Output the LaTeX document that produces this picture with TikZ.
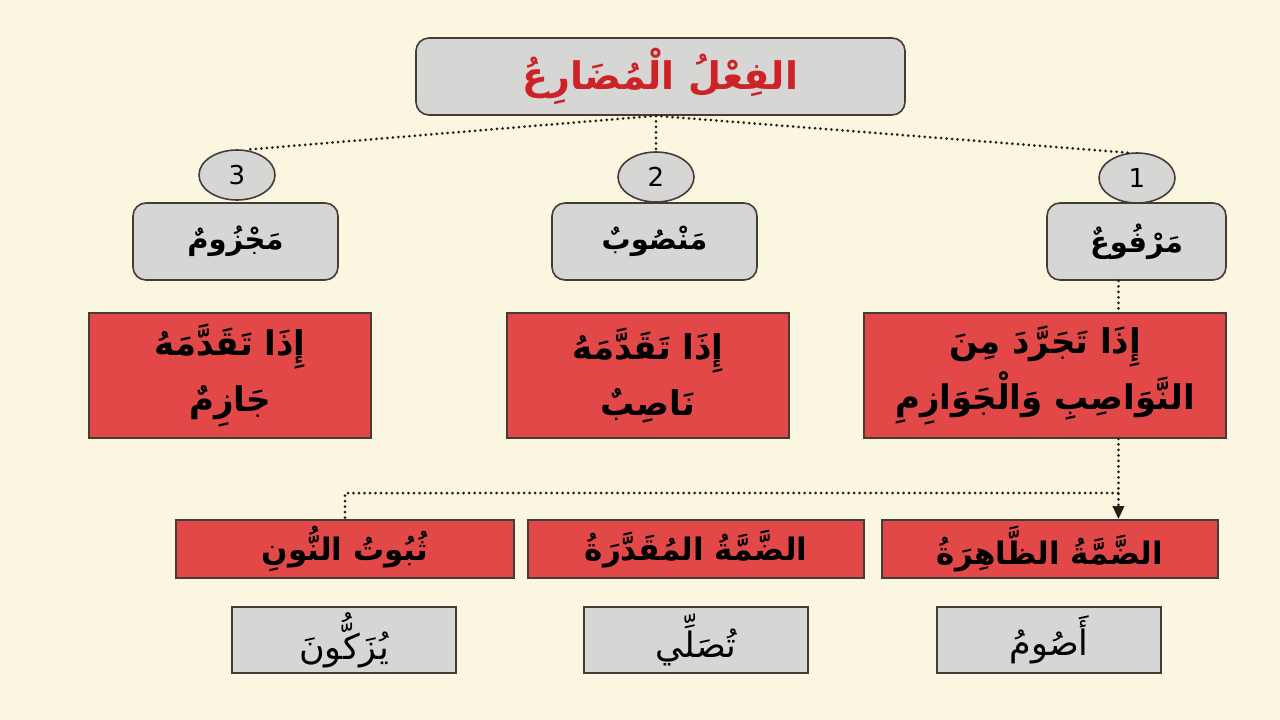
\documentclass[tikz,border=0pt]{standalone}
\usepackage{fontspec}
\usetikzlibrary{shapes.geometric,arrows.meta,calc}
\TeXXeTstate=1
\newfontfamily\arabicfont[Script=Arabic]{DejaVu Sans}
\newfontfamily\numfont{DejaVu Sans}
\definecolor{bgcream}{RGB}{251,246,224}
\definecolor{boxgray}{RGB}{214,214,212}
\definecolor{boxred}{RGB}{226,72,72}
\definecolor{edgedark}{RGB}{70,60,55}
\definecolor{titlered}{RGB}{205,35,40}
\definecolor{dotcol}{RGB}{40,30,25}
\tikzset{
  grayround/.style={draw=edgedark,line width=1.6pt,fill=boxgray,rounded corners=13pt,inner sep=0pt,font=\arabicfont\bfseries\fontsize{29}{34}\selectfont},
  numcirc/.style={ellipse,draw=edgedark,line width=1.6pt,fill=boxgray,inner sep=0pt,minimum width=76pt,minimum height=50pt,font=\numfont\fontsize{26}{30}\selectfont},
  redbox/.style={draw=edgedark,line width=1.6pt,fill=boxred,inner sep=0pt,align=center,font=\arabicfont\bfseries\fontsize{34}{56}\selectfont},
  redsmall/.style={draw=edgedark,line width=1.6pt,fill=boxred,inner sep=0pt,minimum width=336pt,minimum height=58pt,font=\arabicfont\bfseries\fontsize{31}{34}\selectfont},
  graybox/.style={draw=edgedark,line width=1.4pt,fill=boxgray,inner sep=0pt,minimum width=224pt,minimum height=66pt,font=\arabicfont\fontsize{35}{38}\selectfont},
  dots/.style={draw=dotcol,line width=3pt,line cap=round,dash pattern=on 0pt off 5.5pt},
}
\begin{document}
\begin{tikzpicture}[x=1pt,y=-1pt]
\fill[bgcream] (0,0) rectangle (1280,720);
\useasboundingbox (0,0) rectangle (1280,720);

\node[grayround,minimum width=489pt,minimum height=77pt,text=titlered,font=\arabicfont\bfseries\fontsize{38}{42}\selectfont] (top) at (660.5,76.5) {\beginR الفِعْلُ الْمُضَارِعُ\endR};

\node[numcirc] (c3) at (237,175) {3};
\node[numcirc] (c2) at (656,177) {2};
\node[numcirc] (c1) at (1137,178) {1};

\node[grayround,minimum width=205pt,minimum height=77pt] (b3) at (235.5,241.5) {\beginR مَجْزُومٌ\endR};
\node[grayround,minimum width=205pt,minimum height=77pt] (b2) at (654.5,241.5) {\beginR مَنْصُوبٌ\endR};
\node[grayround,minimum width=179pt,minimum height=77pt] (b1) at (1136.5,241.5) {\beginR مَرْفُوعٌ\endR};

\node[redbox,minimum width=282pt,minimum height=125pt] (r3) at (230,375.5) {\beginR إِذَا تَقَدَّمَهُ\endR\\\beginR جَازِمٌ\endR};
\node[redbox,minimum width=282pt,minimum height=125pt] (r2) at (648,375.5) {\beginR إِذَا تَقَدَّمَهُ\endR\\\beginR نَاصِبٌ\endR};
\node[redbox,minimum width=362pt,minimum height=125pt] (r1) at (1045,375.5) {\beginR إِذَا تَجَرَّدَ مِنَ\endR\\\beginR النَّوَاصِبِ وَالْجَوَازِمِ\endR};

\node[redsmall,minimum width=338pt] (s3) at (345,549) {\beginR ثُبُوتُ النُّونِ\endR};
\node[redsmall] (s2) at (696,549) {\beginR الضَّمَّةُ المُقَدَّرَةُ\endR};
\node[redsmall] (s1) at (1050,549) {\beginR الضَّمَّةُ الظَّاهِرَةُ\endR};

\node[graybox] (g3) at (344,640) {\beginR يُزَكُّونَ\endR};
\node[graybox] (g2) at (696,640) {\beginR تُصَلِّي\endR};
\node[graybox] (g1) at (1049,640) {\beginR أَصُومُ\endR};

% connectors
\coordinate (hub) at (c2.north |- top.south);
\draw[dots] (hub) -- (c3.72);
\draw[dots] (hub) -- (c2.north);
\draw[dots] (hub) -- (c1.108);
\coordinate (vx) at ($(b1.south west)!0.4!(b1.south east)$);
\draw[dots] (vx) -- (vx |- r1.north);
\draw[dots,-{Triangle[length=13pt,width=11pt,sep=0pt]}] (vx |- r1.south) -- (vx |- s1.north);
\coordinate (k) at (1118,493);
\draw[dots] (k) -| (s3.north);
\end{tikzpicture}
\end{document}
